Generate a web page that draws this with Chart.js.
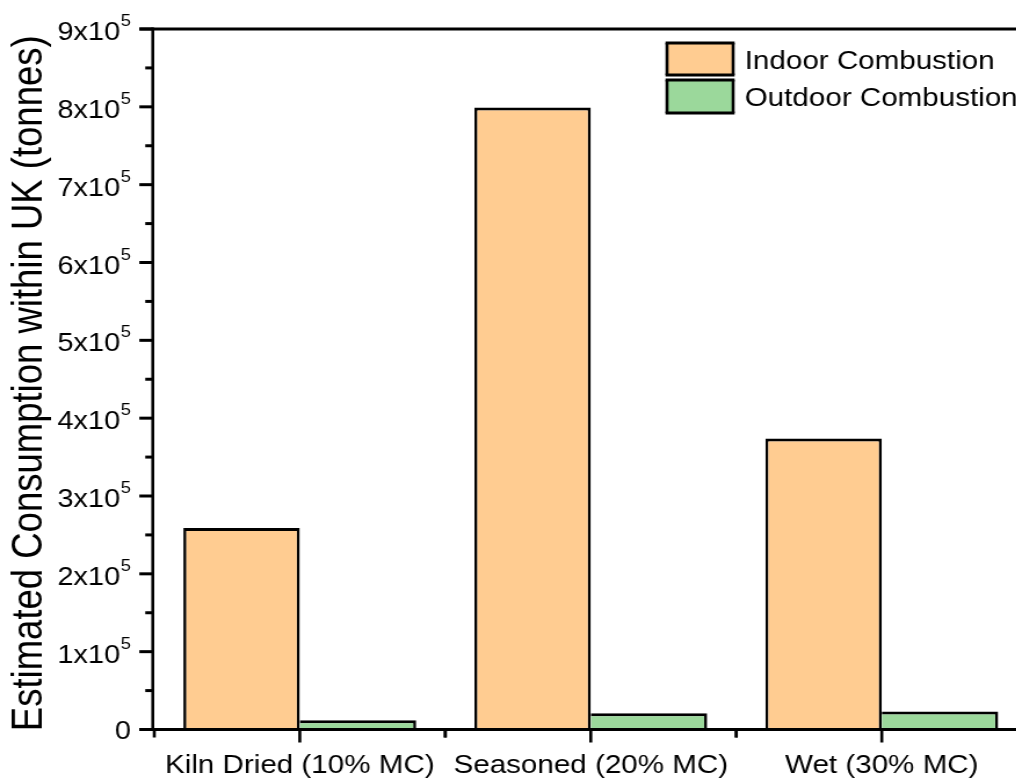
<!DOCTYPE html>
<html>
<head>
<meta charset="utf-8">
<script src="https://cdn.jsdelivr.net/npm/chart.js@4/dist/chart.umd.min.js"></script>
<style>
  html, body { margin: 0; padding: 0; background: #ffffff; overflow: hidden; width: 1016px; height: 780px; }
  #wrap { position: absolute; left: 0; top: 0; transform: scaleX(1.16); transform-origin: 0 0; }
  canvas { display: block; }
</style>
</head>
<body>
<div id="wrap"><canvas id="chart" width="890" height="780"></canvas></div>
<script>
// Wood fuel categories and estimated annual consumption (tonnes)
const categories = ['Kiln Dried (10% MC)', 'Seasoned (20% MC)', 'Wet (30% MC)'];
const seriesNames = ['Indoor Combustion', 'Outdoor Combustion'];
const indoorCombustion = [259000, 799000, 374000];
const outdoorCombustion = [12000, 21000, 23000];
const yTickLabels = ['0', '1x10^5', '2x10^5', '3x10^5', '4x10^5', '5x10^5', '6x10^5', '7x10^5', '8x10^5', '9x10^5'];
const yAxisTitle = 'Estimated Consumption within UK (tonnes)';

const FONT = "'Liberation Sans', Arial, sans-serif";
const INDOOR_FILL = '#FFCC91';
const OUTDOOR_FILL = '#9BD89B';
const H_LINE = 3;    // horizontal stroke width
const V_LINE = 2.6;  // vertical stroke width
const MAJOR = 10.3;
const MINOR = 5.2;

// Axes, ticks, labels and legend drawn on top of the bars
const framePlugin = {
  id: 'frame',
  afterDatasetsDraw(chart) {
    const ctx = chart.ctx;
    const area = chart.chartArea;
    const x = chart.scales.x;
    const y = chart.scales.y;
    const W = chart.width;
    ctx.save();
    ctx.strokeStyle = '#000';
    ctx.fillStyle = '#000';
    ctx.lineCap = 'butt';

    // horizontal frame lines (bottom axis and top edge)
    ctx.lineWidth = H_LINE;
    [y.getPixelForValue(0), y.getPixelForValue(900000)].forEach(py => {
      ctx.beginPath();
      ctx.moveTo(area.left - MAJOR - V_LINE, py);
      ctx.lineTo(W, py);
      ctx.stroke();
    });

    // left axis line
    const ax = area.left - V_LINE / 2;
    ctx.lineWidth = V_LINE;
    ctx.beginPath();
    ctx.moveTo(ax, y.getPixelForValue(900000) - H_LINE / 2);
    ctx.lineTo(ax, y.getPixelForValue(0) + H_LINE / 2);
    ctx.stroke();

    // y ticks: major every 1e5, minor halfway
    ctx.lineWidth = H_LINE;
    for (let v = 0; v <= 900000; v += 50000) {
      const py = y.getPixelForValue(v);
      const len = (v % 100000 === 0) ? MAJOR : MINOR;
      ctx.beginPath();
      ctx.moveTo(ax, py);
      ctx.lineTo(ax - V_LINE / 2 - len, py);
      ctx.stroke();
    }

    // y tick labels with superscript exponent
    const labelRight = 113;
    yTickLabels.forEach((lab, i) => {
      const py = y.getPixelForValue(i * 100000);
      const parts = lab.split('^');
      ctx.textAlign = 'left';
      ctx.textBaseline = 'alphabetic';
      if (parts.length === 2) {
        ctx.font = '16px ' + FONT;
        const ew = ctx.measureText(parts[1]).width;
        ctx.font = '25px ' + FONT;
        const mw = ctx.measureText(parts[0]).width;
        const mx = labelRight - ew - 0.5 - mw;
        ctx.fillText(parts[0], mx, py + 11);
        ctx.font = '16px ' + FONT;
        ctx.fillText(parts[1], mx + mw + 0.5, py - 3);
      } else {
        ctx.font = '25px ' + FONT;
        ctx.textAlign = 'right';
        ctx.fillText(parts[0], labelRight, py + 9);
      }
    });

    // x ticks: major at category centres, minor at category boundaries
    const bottom = y.getPixelForValue(0) + H_LINE / 2;
    const half = (x.getPixelForValue(1) - x.getPixelForValue(0)) / 2;
    ctx.lineWidth = V_LINE;
    categories.forEach((c, i) => {
      const cx = x.getPixelForValue(i);
      ctx.beginPath();
      ctx.moveTo(cx, bottom - 1);
      ctx.lineTo(cx, bottom + 11.5);
      ctx.stroke();
      [cx - half, cx + half].forEach(bx => {
        ctx.beginPath();
        ctx.moveTo(bx, bottom - 1);
        ctx.lineTo(bx, bottom + 6.5);
        ctx.stroke();
      });
    });

    // category labels
    ctx.font = '25.5px ' + FONT;
    ctx.textAlign = 'center';
    ctx.textBaseline = 'alphabetic';
    categories.forEach((c, i) => {
      ctx.fillText(c, x.getPixelForValue(i), 773);
    });

    // y axis title
    ctx.save();
    ctx.translate(36, (area.top + area.bottom) / 2 + 4);
    ctx.rotate(-Math.PI / 2);
    ctx.font = '36.5px ' + FONT;
    ctx.textAlign = 'center';
    ctx.textBaseline = 'alphabetic';
    ctx.fillText(yAxisTitle, 0, 0);
    ctx.restore();

    // legend
    const boxL = 575, boxW = 57;
    const rows = [{ top: 43, h: 32, base: 69 }, { top: 80, h: 33, base: 106 }];
    chart.data.datasets.forEach((ds, i) => {
      const r = rows[i];
      ctx.fillStyle = ds.backgroundColor;
      ctx.fillRect(boxL, r.top, boxW, r.h);
      ctx.strokeStyle = '#000';
      ctx.lineWidth = V_LINE;
      ctx.beginPath();
      ctx.moveTo(boxL, r.top); ctx.lineTo(boxL, r.top + r.h);
      ctx.moveTo(boxL + boxW, r.top); ctx.lineTo(boxL + boxW, r.top + r.h);
      ctx.stroke();
      ctx.lineWidth = H_LINE;
      ctx.beginPath();
      ctx.moveTo(boxL - V_LINE / 2, r.top); ctx.lineTo(boxL + boxW + V_LINE / 2, r.top);
      ctx.moveTo(boxL - V_LINE / 2, r.top + r.h); ctx.lineTo(boxL + boxW + V_LINE / 2, r.top + r.h);
      ctx.stroke();
      ctx.fillStyle = '#000';
      ctx.font = '25.5px ' + FONT;
      ctx.textAlign = 'left';
      ctx.fillText(ds.label, 642, r.base);
    });

    ctx.restore();
  }
};

new Chart(document.getElementById('chart'), {
  type: 'bar',
  data: {
    labels: categories,
    datasets: [
      {
        label: seriesNames[0],
        data: indoorCombustion,
        backgroundColor: INDOOR_FILL,
        borderColor: '#000',
        borderWidth: { top: H_LINE, left: V_LINE, right: V_LINE, bottom: 0 },
        borderSkipped: 'start',
        categoryPercentage: 0.8,
        barPercentage: 1.0
      },
      {
        label: seriesNames[1],
        data: outdoorCombustion,
        backgroundColor: OUTDOOR_FILL,
        borderColor: '#000',
        borderWidth: { top: H_LINE, left: 0, right: V_LINE, bottom: 0 },
        borderSkipped: 'start',
        categoryPercentage: 0.8,
        barPercentage: 1.0
      }
    ]
  },
  options: {
    responsive: false,
    animation: false,
    devicePixelRatio: 1,
    layout: { padding: { left: 0, right: 4.4, top: 29, bottom: 0 } },
    plugins: { legend: { display: false }, title: { display: false }, tooltip: { enabled: false } },
    scales: {
      x: {
        type: 'category',
        offset: true,
        grid: { display: false },
        border: { display: false },
        ticks: { display: false },
        afterFit(scale) { scale.height = 50.5; }
      },
      y: {
        type: 'linear',
        min: 0,
        max: 900000,
        grid: { display: false },
        border: { display: false },
        ticks: { display: false, stepSize: 100000 },
        afterFit(scale) { scale.width = 133; }
      }
    }
  },
  plugins: [framePlugin]
});
</script>
</body>
</html>
